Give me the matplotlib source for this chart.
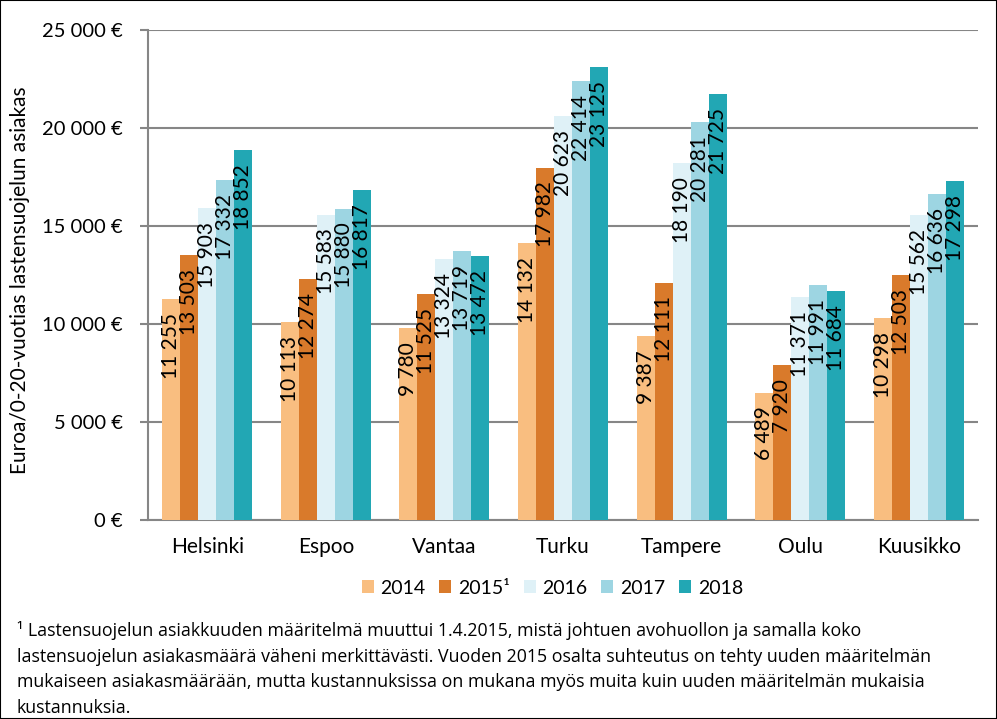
import numpy as np
import matplotlib.pyplot as plt
from matplotlib.patches import Rectangle

plt.rcParams['font.family'] = ['Lato', 'DejaVu Sans']

cities = ['Helsinki', 'Espoo', 'Vantaa', 'Turku', 'Tampere', 'Oulu', 'Kuusikko']
years = ['2014', '2015¹', '2016', '2017', '2018']
v2014 = [11255, 10113, 9780, 14132, 9387, 6489, 10298]
v2015 = [13503, 12274, 11525, 17982, 12111, 7920, 12503]
v2016 = [15903, 15583, 13324, 20623, 18190, 11371, 15562]
v2017 = [17332, 15880, 13719, 22414, 20281, 11991, 16636]
v2018 = [18852, 16817, 13472, 23125, 21725, 11684, 17298]
colors = ['#F9BE80', '#D97A2B', '#DFF1F7', '#9DD5E2', '#22A7B4']
yticks = [0, 5000, 10000, 15000, 20000, 25000]

footnote = ["¹ Lastensuojelun asiakkuuden määritelmä muuttui 1.4.2015, mistä johtuen avohuollon ja samalla koko",
            "lastensuojelun asiakasmäärä väheni merkittävästi. Vuoden 2015 osalta suhteutus on tehty uuden määritelmän",
            "mukaiseen asiakasmäärään, mutta kustannuksissa on mukana myös muita kuin uuden määritelmän mukaisia",
            "kustannuksia."]

def fmt(v):
    return f'{v:,}'.replace(',', ' ')

fig = plt.figure(figsize=(9.97, 7.19), dpi=100)
fig.patches.append(Rectangle((0, 0), 1, 1, transform=fig.transFigure, fill=False,
                             edgecolor='#000000', lw=1.5))
ax = fig.add_axes([0.1484, 0.2768, 0.8326, 0.6815])

series = [v2014, v2015, v2016, v2017, v2018]
x = np.arange(len(cities))
w = 0.152
for i, (vals, c, lab) in enumerate(zip(series, colors, years)):
    pos = x + (i - 2) * w
    ax.bar(pos, vals, width=w, color=c, label=lab, zorder=3)
    for p, v in zip(pos, vals):
        ax.annotate(fmt(v), (p, v), xytext=(0, -10), textcoords='offset points',
                    rotation=90, ha='center', va='top', fontsize=15, zorder=4)

ax.set_xlim(-0.5, len(cities) - 0.5)
ax.set_ylim(0, 25000)
ax.set_yticks(yticks)
ax.set_yticklabels([fmt(t) + ' €' for t in yticks], fontsize=14.5)
ax.set_xticks(x)
ax.set_xticklabels(cities, fontsize=15)
ax.tick_params(axis='x', length=0, pad=12)
ax.tick_params(axis='y', length=6, color='#868686', width=1.5, pad=12)
ax.yaxis.grid(True, color='#868686', lw=1.5, zorder=0)
for s in ['top', 'right']:
    ax.spines[s].set_visible(False)
for s in ['left', 'bottom']:
    ax.spines[s].set_color('#868686')
    ax.spines[s].set_linewidth(1.5)
ax.set_ylabel('Euroa/0-20-vuotias lastensuojelun asiakas', fontsize=15)
ax.yaxis.set_label_coords(-0.142, 0.49)

fig.legend(loc='center', bbox_to_anchor=(0.554, 0.182), ncol=5, frameon=False,
           fontsize=14, handlelength=0.62, handleheight=0.62, handletextpad=0.35,
           columnspacing=0.7)

# footnote lines, baselines in pixels from the top
for k, line in enumerate(footnote):
    yb = 636 + k * 25.7
    fig.text(0.017, 1 - yb / 719, line, fontsize=12.8, family=['Open Sans', 'DejaVu Sans'],
             va='baseline', ha='left')

fig.savefig('out.png', dpi=100)
